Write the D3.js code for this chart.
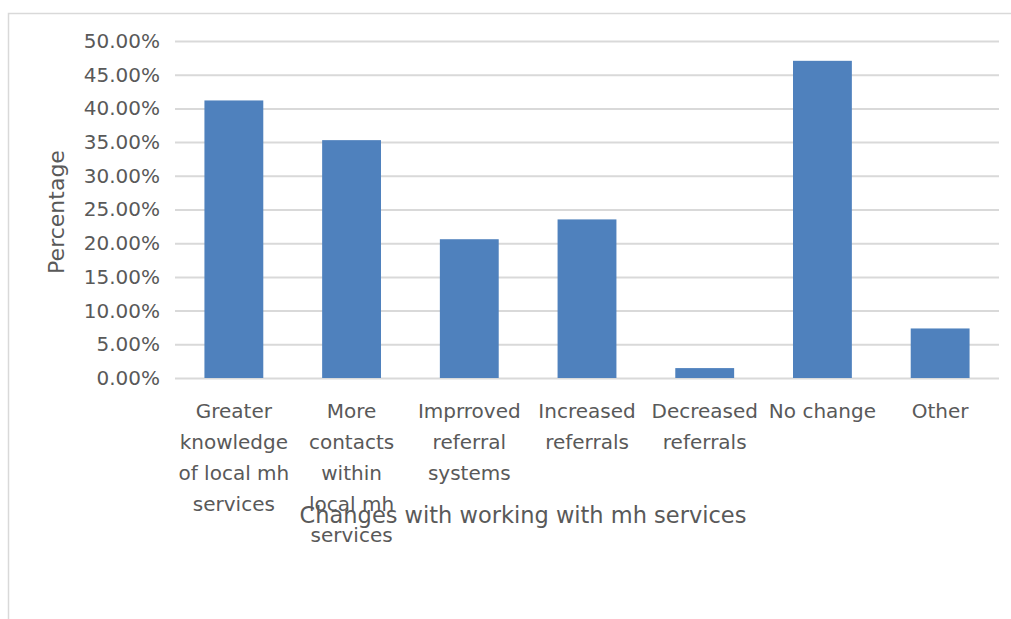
<!DOCTYPE html>
<html>
<head>
<meta charset="utf-8">
<script src="https://cdn.jsdelivr.net/npm/d3@7"></script>
<style>
  html, body { margin: 0; padding: 0; background: #fff; }
  svg { display: block; }
  text { font-family: "DejaVu Sans", sans-serif; fill: #595959; }
</style>
</head>
<body>
<svg id="chart" width="1011" height="619"></svg>
<script>
// Category labels, one entry per bar, already split into display lines
const categoryLines = [
  ["Greater", "knowledge", "of local mh", "services"],
  ["More", "contacts", "within", "local mh", "services"],
  ["Imprroved", "referral", "systems"],
  ["Increased", "referrals"],
  ["Decreased", "referrals"],
  ["No change"],
  ["Other"]
];
const categories = categoryLines.map(l => l.join(" "));

// Share of respondents per category
const values = [0.4118, 0.3529, 0.2059, 0.2353, 0.0147, 0.4706, 0.0735];

// Value-axis ticks
const yTicks = [0, 0.05, 0.10, 0.15, 0.20, 0.25, 0.30, 0.35, 0.40, 0.45, 0.50];

const xTitle = "Changes with working with mh services";
const yTitle = "Percentage";

const svg = d3.select("#chart");
const W = 1011, H = 619;
const plot = { left: 175, right: 999, top: 41, bottom: 378 };

// Outer chart frame (top and left edges visible)
svg.append("path")
  .attr("d", `M8.5,${H} V13.5 H${W}`)
  .attr("fill", "none")
  .attr("stroke", "#d9d9d9")
  .attr("stroke-width", 1.5);

const x = d3.scaleBand()
  .domain(categories)
  .range([plot.left, plot.right])
  .paddingInner(0.5)
  .paddingOuter(0.25);

const y = d3.scaleLinear()
  .domain([0, 0.5])
  .range([plot.bottom, plot.top]);

// Horizontal gridlines
const yAxis = d3.axisLeft(y)
  .tickValues(yTicks)
  .tickFormat(d3.format(".2%"))
  .tickSize(-(plot.right - plot.left))
  .tickPadding(15);

const gy = svg.append("g")
  .attr("transform", `translate(${plot.left},0)`)
  .call(yAxis);
gy.select(".domain").remove();
gy.selectAll(".tick line")
  .attr("stroke", "#d9d9d9")
  .attr("stroke-width", 2);
gy.selectAll(".tick text")
  .attr("font-size", 20)
  .attr("fill", "#595959")
  .attr("font-family", "DejaVu Sans, sans-serif");

// Bars
svg.append("g")
  .selectAll("rect")
  .data(values)
  .join("rect")
  .attr("x", (d, i) => x(categories[i]))
  .attr("width", x.bandwidth())
  .attr("y", d => y(d))
  .attr("height", d => y(0) - y(d))
  .attr("fill", "#4f81bd");

// Category labels below the axis
const xAxis = d3.axisBottom(x).tickSize(0).tickFormat("");
const gx = svg.append("g")
  .attr("transform", `translate(0,${plot.bottom})`)
  .call(xAxis);
gx.select(".domain").remove();
gx.selectAll(".tick").each(function(d, i) {
  const t = d3.select(this).append("text")
    .attr("text-anchor", "middle")
    .attr("font-size", 20)
    .attr("fill", "#595959");
  categoryLines[i].forEach((line, k) => {
    t.append("tspan")
      .attr("x", 0)
      .attr("y", 40 + k * 31)
      .text(line);
  });
});

// Axis titles
svg.append("text")
  .attr("x", 523)
  .attr("y", 523)
  .attr("text-anchor", "middle")
  .attr("font-size", 22.5)
  .text(xTitle);

svg.append("text")
  .attr("transform", `translate(64,212) rotate(-90)`)
  .attr("text-anchor", "middle")
  .attr("font-size", 22)
  .text(yTitle);
</script>
</body>
</html>
